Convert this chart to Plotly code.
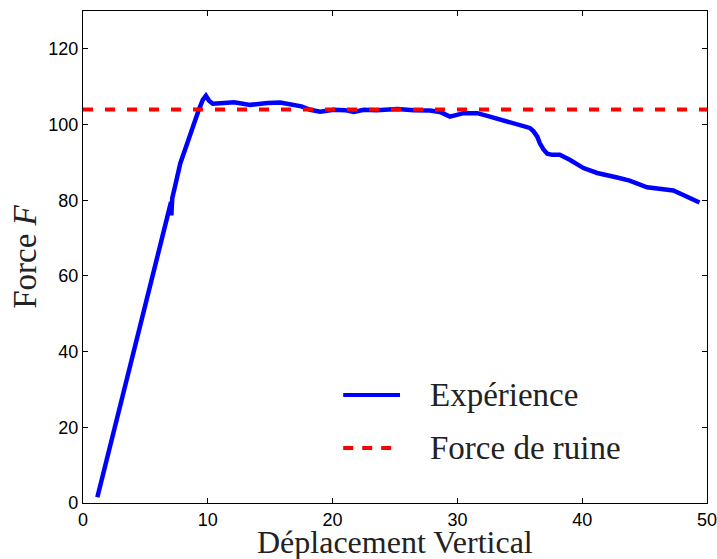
import plotly.graph_objects as go

# Measured load-displacement curve
deplacement = [1.15, 4.75, 4.6, 4.8, 7.05, 7.08, 7.15, 7.4,
               7.8, 8.3, 8.8, 9.3, 9.6, 9.85, 10.1, 10.4, 11.3, 12.1, 13.4, 14.2,
               14.8, 15.8, 16.9, 17.5, 18.2, 19.0, 20.1, 21.0, 21.7, 22.5, 23.5,
               25.2, 26.5, 27.8, 28.6, 29.4, 30.5, 31.6, 32.6, 33.5, 34.2, 35.3,
               35.8, 36.1, 36.4, 36.6, 36.9, 37.2, 37.6, 38.2, 39.0, 40.1, 41.2,
               42.8, 43.8, 45.2, 46.2, 47.3, 48.1, 49.4]
force = [1.5, 49.5, 47.5, 50.5, 79.5, 76.0, 80.5, 84.0,
         89.8, 94.5, 99.5, 104.1, 106.5, 107.6, 106.3, 105.5, 105.7, 105.9,
         105.2, 105.5, 105.7, 105.8, 105.0, 104.8, 103.9, 103.4, 103.9, 103.8,
         103.3, 103.9, 103.8, 104.1, 103.8, 103.7, 103.3, 102.1, 103.0, 103.0,
         102.1, 101.3, 100.5, 99.7, 99.1, 98.2, 96.8, 95.1, 93.4, 92.3, 92.0,
         92.0, 90.7, 88.5, 87.2, 86.0, 85.2, 83.4, 82.9, 82.6, 81.4, 79.4]

# Theoretical collapse load
force_ruine = 104.0
x_range = [0, 50]
y_range = [0, 130]
x_ticks = [0, 10, 20, 30, 40, 50]
y_ticks = [0, 20, 40, 60, 80, 100, 120]

x_title = "Déplacement Vertical"
y_title = "Force <i>F</i>"
legend_labels = ["Expérience", "Force de ruine"]
blue = "#0000ff"
red = "#ff0000"
serif = "Liberation Serif, Times New Roman, serif"
title_size = 33

fig = go.Figure()
fig.add_trace(go.Scatter(x=deplacement, y=force, mode="lines",
                         line=dict(color=blue, width=4.5),
                         name=legend_labels[0], showlegend=False))
fig.add_trace(go.Scatter(x=x_range, y=[force_ruine, force_ruine], mode="lines",
                         line=dict(color=red, width=4, dash="10px,12px"),
                         name=legend_labels[1], showlegend=False))

# Legend keys drawn inside the axes
legend_rows = [(0.2195, blue, "solid", legend_labels[0]),
               (0.112, red, "10px,9px", legend_labels[1])]
for yy, col, dash, label in legend_rows:
    fig.add_shape(type="line", xref="x domain", yref="y domain",
                  x0=0.417, x1=0.508, y0=yy, y1=yy,
                  line=dict(color=col, width=4, dash=dash))
    fig.add_annotation(xref="x domain", yref="y domain", x=0.553, y=yy,
                       text=label, showarrow=False, xanchor="left",
                       yanchor="middle",
                       font=dict(family=serif, size=title_size, color="#222"))

# Horizontal axis title, set just under the tick labels
fig.add_annotation(xref="paper", yref="paper", x=0.5, y=0, yshift=-19,
                   text=x_title, showarrow=False, xanchor="center",
                   yanchor="top",
                   font=dict(family=serif, size=32, color="#222"))

axis_common = dict(showline=True, linecolor="black", linewidth=1.2, mirror="ticks",
                   ticks="inside", ticklen=5, tickcolor="black", tickwidth=1,
                   showgrid=False, zeroline=False, automargin=False,
                   ticklabeloverflow="allow",
                   tickfont=dict(family="Liberation Sans, Arial, sans-serif",
                                 size=18, color="black"))

fig.update_xaxes(range=x_range, tickvals=x_ticks, **axis_common)
fig.update_yaxes(range=y_range, tickvals=y_ticks, **axis_common,
                 title=dict(text=y_title, standoff=1,
                            font=dict(family=serif, size=title_size, color="#222")))

fig.update_layout(width=717, height=559, plot_bgcolor="white",
                  paper_bgcolor="white",
                  margin=dict(l=83, r=10, t=11, b=56))

fig.write_html("out.html")
